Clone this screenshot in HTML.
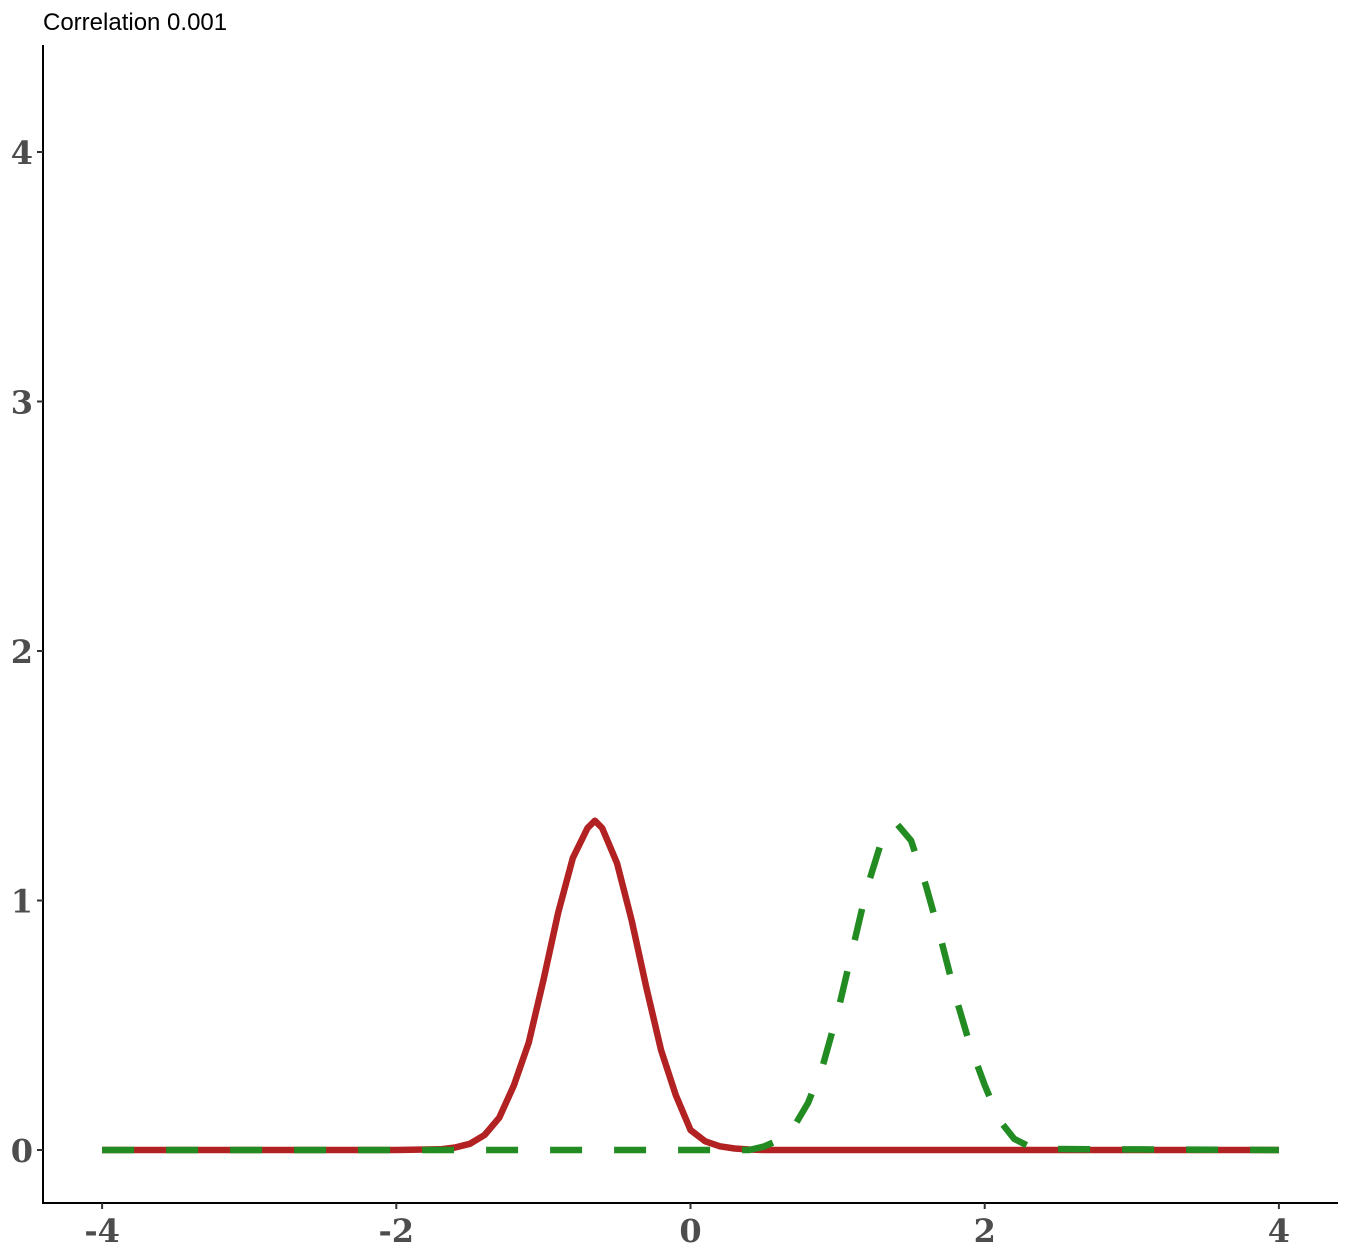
<!DOCTYPE html>
<html><head><meta charset="utf-8"><style>
html,body{margin:0;padding:0;background:#fff;}
svg{display:block;}
</style></head><body>
<svg id="chart" width="1350" height="1260" xmlns="http://www.w3.org/2000/svg">
<text x="43" y="30" font-family="Liberation Sans, sans-serif" font-size="24" fill="#000">Correlation 0.001</text>
<g id="axes"></g>
<g id="series"></g>
</svg>
<script>
const xTicks = [-4, -2, 0, 2, 4];
const yTicks = [0, 1, 2, 3, 4];
const redX = [-4, -2, -1.7, -1.6, -1.5, -1.4, -1.3, -1.2, -1.1, -1.0, -0.9, -0.8, -0.7, -0.65, -0.6, -0.5, -0.4, -0.3, -0.2, -0.1, 0, 0.1, 0.2, 0.3, 0.4, 0.5, 4];
const redY = [0, 0, 0.003, 0.01, 0.025, 0.06, 0.13, 0.26, 0.43, 0.68, 0.95, 1.17, 1.29, 1.32, 1.29, 1.15, 0.92, 0.65, 0.40, 0.22, 0.08, 0.035, 0.015, 0.006, 0.002, 0, 0];
const greenX = [-4, 0.4, 0.5, 0.6, 0.7, 0.8, 0.9, 1.0, 1.1, 1.2, 1.3, 1.4, 1.5, 1.6, 1.7, 1.8, 1.9, 2.0, 2.1, 2.2, 2.3, 2.4, 4];
const greenY = [0, 0, 0.014, 0.04, 0.09, 0.19, 0.34, 0.55, 0.80, 1.05, 1.24, 1.31, 1.24, 1.06, 0.85, 0.62, 0.42, 0.26, 0.12, 0.045, 0.015, 0.004, 0];

const NS = 'http://www.w3.org/2000/svg';
const xs = v => 690.5 + v * 147.1;
const ys = v => 1150 - v * 249.5;
const axes = document.getElementById('axes');
const series = document.getElementById('series');
function mk(tag, attrs, parent) {
  const e = document.createElementNS(NS, tag);
  for (const k in attrs) e.setAttribute(k, attrs[k]);
  parent.appendChild(e);
  return e;
}
const yAxis = mk('line', {x1: 43, y1: 45, x2: 43, y2: 1203, stroke: '#000', 'stroke-width': 2}, axes);


const xAxis = mk('line', {x1: 42, y1: 1203, x2: 1338, y2: 1203, stroke: '#000', 'stroke-width': 2}, axes);


xTicks.forEach(t => {
  const tk = mk('line', {x1: xs(t), y1: 1203, x2: xs(t), y2: 1209, stroke: '#333', 'stroke-width': 2}, axes);
  
  
  const lb = mk('text', {x: xs(t), y: 1242, 'text-anchor': 'middle', 'font-family': 'DejaVu Serif, serif', 'font-weight': 'bold', 'font-size': 32, fill: '#4d4d4d'}, axes);
  lb.textContent = t < 0 ? '-' + Math.abs(t) : String(t);
  
  
});
yTicks.forEach(t => {
  const tk = mk('line', {x1: 37, y1: ys(t), x2: 43, y2: ys(t), stroke: '#333', 'stroke-width': 2}, axes);
  
  
  const lb = mk('text', {x: 33, y: ys(t) + 12, 'text-anchor': 'end', 'font-family': 'DejaVu Serif, serif', 'font-weight': 'bold', 'font-size': 32, fill: '#4d4d4d'}, axes);
  lb.textContent = String(t);
  
  
});
function pathD(X, Y) {
  return X.map((x, i) => (i ? 'L' : 'M') + xs(x).toFixed(1) + ',' + ys(Y[i]).toFixed(1)).join(' ');
}
const red = mk('path', {d: pathD(redX, redY), fill: 'none', stroke: '#b22222', 'stroke-width': 6.5, 'stroke-linejoin': 'round'}, series);


const green = mk('path', {d: pathD(greenX, greenY), fill: 'none', stroke: '#228b22', 'stroke-width': 6.5, 'stroke-dasharray': '32 32', 'stroke-linejoin': 'round'}, series);


</script>
</body></html>
